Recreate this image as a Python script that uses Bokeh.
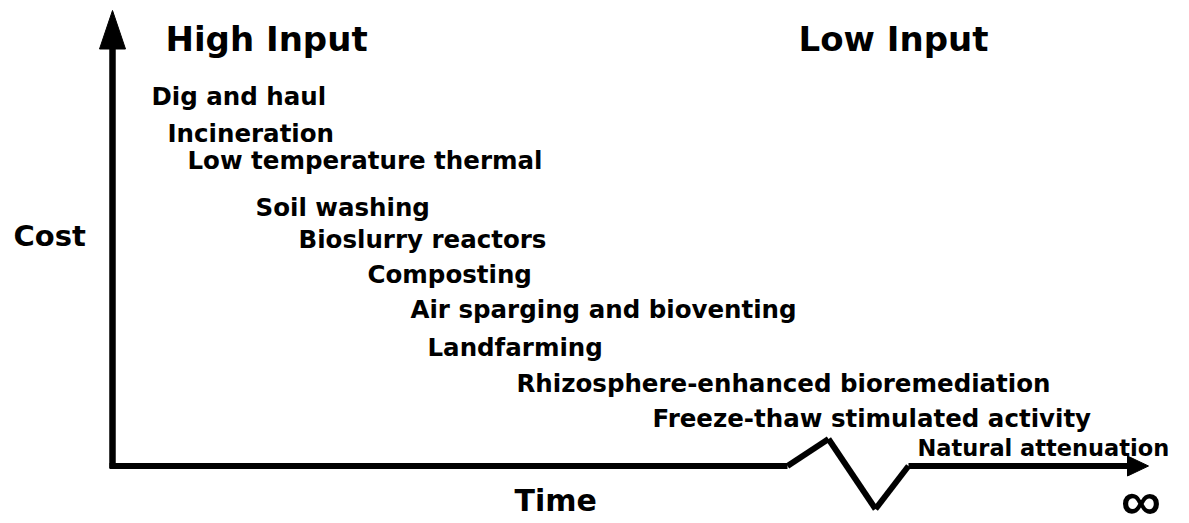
from bokeh.plotting import figure
from bokeh.models import Range1d
from bokeh.core.properties import value
from bokeh.embed import file_html
from bokeh.resources import INLINE

# --- data (time = horizontal position from origin, cost = height above time axis) ---
techniques = ["Dig and haul", "Incineration", "Low temperature thermal", "Soil washing",
              "Bioslurry reactors", "Composting", "Air sparging and bioventing", "Landfarming",
              "Rhizosphere-enhanced bioremediation", "Freeze-thaw stimulated activity"]
tech_time = [39, 55, 75, 143, 186, 255, 298, 315, 404, 540]
tech_cost = [370, 333, 306, 259, 227, 192, 157, 119, 83, 48]

last_technique = "Natural attenuation"
last_time = 805
last_cost = 18

headers = ["High Input", "Low Input"]
header_time = [53, 686]
header_cost = [427, 427]

# axis path (time axis with a break), arrow tips
time_axis_t = [-3, 675, 716, 763, 796, 1015]
time_axis_c = [0, 0, 27, -43, 0, 0]
cost_axis_t = [0, 0]
cost_axis_c = [-2, 418]

FONT = value("DejaVu Sans")
W, H = 1189, 523
x0, y0 = 112, 465.5   # picture position of origin

p = figure(width=W, height=H, output_backend="svg", toolbar_location=None,
           x_range=Range1d(-x0, W - x0), y_range=Range1d(y0 - H, y0),
           min_border=0)
p.axis.visible = False
p.grid.visible = False
p.outline_line_color = None
p.background_fill_color = "white"
p.border_fill_color = "white"

# cost axis
p.line(cost_axis_t, cost_axis_c, line_width=6.5, line_color="black", line_cap="butt")
p.patch([-13, 13, 0], [417, 417, 455.5], fill_color="black", line_color="black", line_width=1)

# time axis with break: drawn as separate segments
p.segment(x0=time_axis_t[:-1], y0=time_axis_c[:-1], x1=time_axis_t[1:], y1=time_axis_c[1:],
          line_width=6, line_color="black", line_cap="butt")
p.patch([1015, 1015, 1036], [10, -10, 0], fill_color="black", line_color="black", line_width=1)

# headers
p.text(x=header_time, y=header_cost, text=headers, text_font=FONT, text_font_style="bold",
       text_font_size="34px", text_align="left", text_baseline="alphabetic", text_color="black")

# technique labels
p.text(x=tech_time, y=tech_cost, text=techniques, text_font=FONT, text_font_style="bold",
       text_font_size="24.5px", text_align="left", text_baseline="alphabetic", text_color="black")
p.text(x=[last_time], y=[last_cost], text=[last_technique], text_font=FONT, text_font_style="bold",
       text_font_size="22.5px", text_align="left", text_baseline="alphabetic", text_color="black")

# axis titles
p.text(x=[-99], y=[230.5], text=["Cost"], text_font=FONT, text_font_style="bold",
       text_font_size="29px", text_align="left", text_baseline="alphabetic", text_color="black")
p.text(x=[402], y=[-34.5], text=["Time"], text_font=FONT, text_font_style="bold",
       text_font_size="30px", text_align="left", text_baseline="middle", text_color="black")
p.text(x=[1028.5], y=[-34], text=["\u221e"], text_font=value("Liberation Sans"),
       text_font_style="bold", text_font_size="56px", text_align="center",
       text_baseline="middle", text_color="black")

open("out.html", "w").write(file_html(p, INLINE))
